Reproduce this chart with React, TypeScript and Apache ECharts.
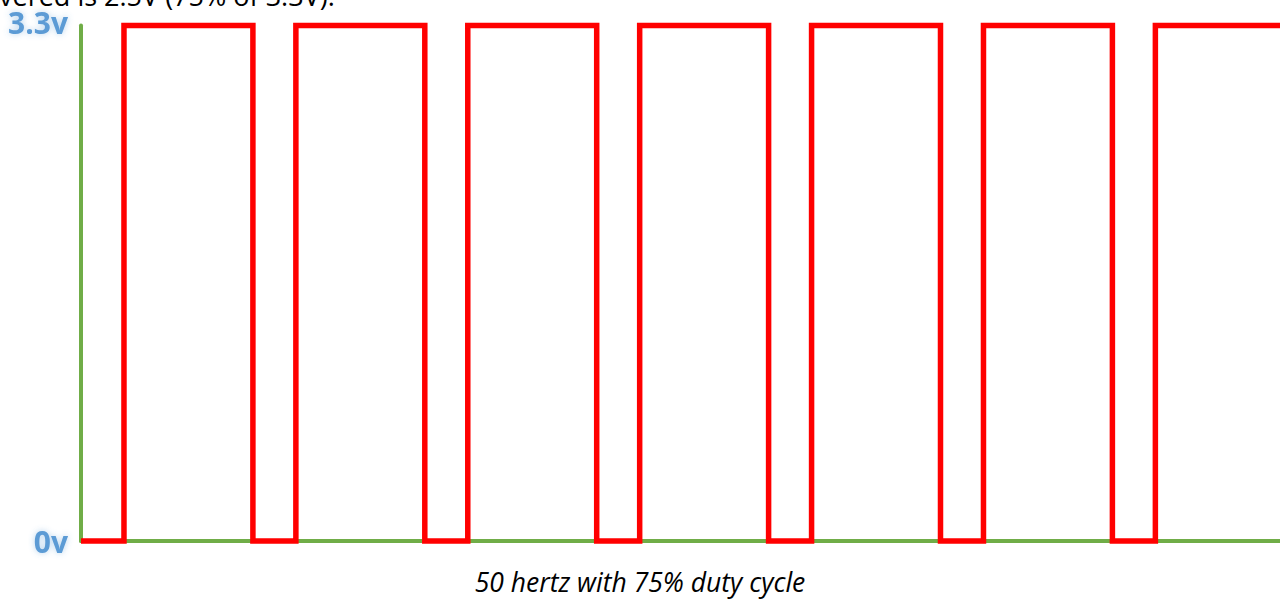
import React, { useEffect, useRef } from "react";
import * as echarts from "echarts";

// Time in milliseconds (50 Hz → 20 ms period), voltage in volts
const riseTimes = [5, 25, 45, 65, 85, 105, 125];
const fallTimes = [20, 40, 60, 80, 100, 120];
const startTime = 0;
const endTime = 139.5;
const lowV = 0;
const highV = 3.3;
const yTickLabels = ["0v", "3.3v"];
const caption = "50 hertz with 75% duty cycle";
const topText = "vered is 2.5V (75% of 3.3V).";

function buildPoints(): [number, number][] {
  const events: { t: number; up: boolean }[] = [
    ...riseTimes.map((t) => ({ t, up: true })),
    ...fallTimes.map((t) => ({ t, up: false })),
  ].sort((a, b) => a.t - b.t);
  const pts: [number, number][] = [[startTime, lowV]];
  for (const e of events) {
    if (e.up) {
      pts.push([e.t, lowV], [e.t, highV]);
    } else {
      pts.push([e.t, highV], [e.t, lowV]);
    }
  }
  const last = pts[pts.length - 1][1];
  pts.push([endTime, last]);
  return pts;
}

const labelBase = {
  color: "#5B9BD5",
  fontSize: 30,
  fontWeight: "bold" as const,
  fontFamily: "Open Sans",
  textShadowColor: "rgba(91,155,213,0.45)",
  textShadowBlur: 6,
};

export default function App() {
  const ref = useRef<HTMLDivElement>(null);
  useEffect(() => {
    document.body.style.margin = "0";
    const chart = echarts.init(ref.current!, undefined, { renderer: "svg" });
    chart.setOption({
      animation: false,
      backgroundColor: "#ffffff",
      grid: { left: 81, right: 0, top: 25.5, bottom: 58 },
      xAxis: {
        type: "value",
        min: startTime,
        max: endTime,
        axisLine: { show: true, lineStyle: { color: "#70AD47", width: 4 } },
        axisTick: { show: false },
        axisLabel: { show: false },
        splitLine: { show: false },
      },
      yAxis: {
        type: "value",
        min: lowV,
        max: highV,
        interval: highV,
        axisLine: { show: true, lineStyle: { color: "#70AD47", width: 4 } },
        axisTick: { show: false },
        splitLine: { show: false },
        axisLabel: {
          margin: 13,
          ...labelBase,
          formatter: (v: number) =>
            v === lowV ? "{lo|" + yTickLabels[0] + "}" : "{hi|" + yTickLabels[1] + "}",
          rich: {
            lo: { ...labelBase, lineHeight: 30, padding: [0, 0, 0, 0] },
            hi: { ...labelBase, lineHeight: 30, padding: [0, 0, 6, 0] },
          },
        },
      },
      series: [
        {
          type: "line",
          data: buildPoints(),
          showSymbol: false,
          symbol: "none",
          clip: false,
          lineStyle: { color: "#FF0000", width: 5.5, cap: "butt", join: "miter" },
        },
      ],
      graphic: [
        {
          type: "text",
          left: "center",
          top: 567,
          style: {
            text: caption,
            fontSize: 26.5,
            lineHeight: 30,
            fontStyle: "italic",
            fontFamily: "Open Sans",
            fill: "#000000",
          },
        },
        {
          type: "text",
          x: -1,
          y: -20,
          style: {
            text: topText,
            fontSize: 27,
            lineHeight: 30,
            fontFamily: "Open Sans",
            fill: "#000000",
          },
        },
      ],
    });
    return () => chart.dispose();
  }, []);
  return (
    <div
      ref={ref}
      style={{ position: "absolute", left: 0, top: 0, width: 1280, height: 599 }}
    />
  );
}
